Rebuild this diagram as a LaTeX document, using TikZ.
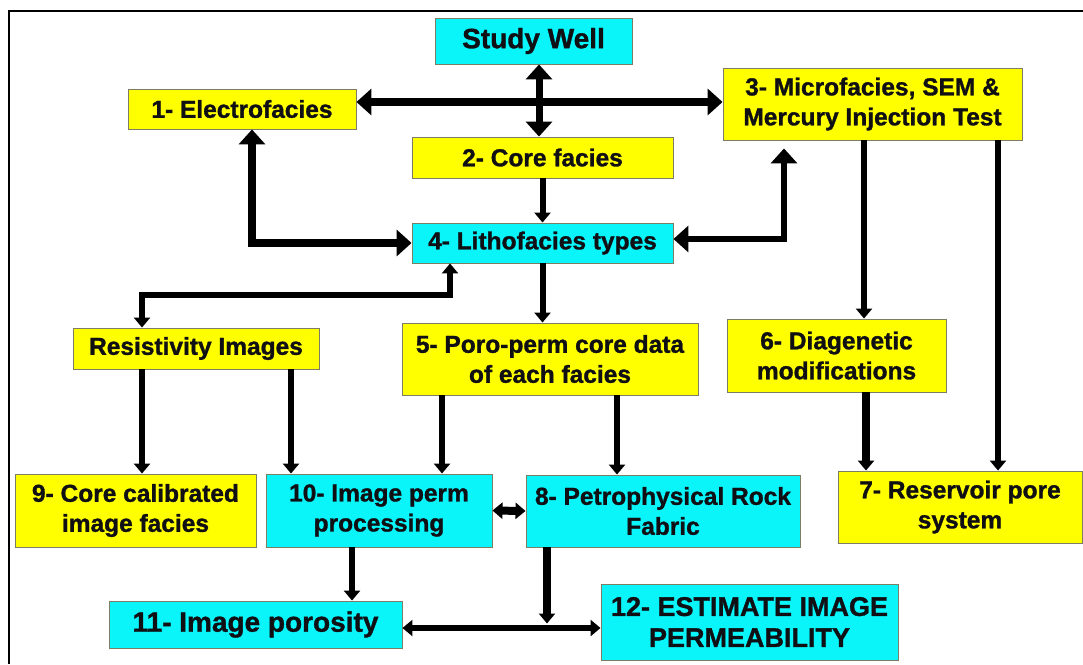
\documentclass[tikz,border=0pt]{standalone}
\usepackage{fontspec}
\setmainfont[BoldFeatures={FakeBold=1.2}]{Liberation Sans}
\usetikzlibrary{arrows.meta}
\definecolor{boxcyan}{RGB}{10,245,250}
\definecolor{boxyellow}{RGB}{255,255,0}
\definecolor{boxedge}{RGB}{125,125,100}
\definecolor{ink}{RGB}{15,15,20}
\tikzset{
  box/.style={draw=boxedge, line width=0.9pt, inner sep=0pt, align=center,
    font=\bfseries\fontsize{24.5}{30}\selectfont, text=ink},
  ybox/.style={box, fill=boxyellow},
  cbox/.style={box, fill=boxcyan},
  bigfont/.style={font=\bfseries\fontsize{28}{32}\selectfont},
  conn/.style={draw=black, line width=6pt},
  heavy/.style={draw=black, line width=8pt},
  dblbig/.style={arrows={Triangle[width=26pt,length=15pt]-Triangle[width=26pt,length=15pt]}},
  dblsmall/.style={arrows={Triangle[width=16pt,length=10pt]-Triangle[width=16pt,length=10pt]}},
  onesmall/.style={arrows={-Triangle[width=16pt,length=10pt]}},
}
\begin{document}
\begin{tikzpicture}[x=1pt,y=-1pt]
\useasboundingbox (0,0) rectangle (1083,664);
\fill[white] (0,0) rectangle (1083,664);
% frame
\draw[line width=2pt] (1083,11) -- (9,11) -- (9,664);

% nodes
\node[cbox, bigfont, minimum width=197pt, minimum height=46pt] (sw) at (533.5,41) {Study Well};
\node[ybox, minimum width=228pt, minimum height=40pt] (e1) at (242,109) {1- Electrofacies};
\node[ybox, minimum width=299pt, minimum height=72pt] (m3) at (872.5,104) {3- Microfacies, SEM \&\\Mercury Injection Test};
\node[ybox, minimum width=261pt, minimum height=41pt] (c2) at (542.5,157.5) {2- Core facies};
\node[cbox, minimum width=261pt, minimum height=40pt] (l4) at (542.5,243) {4- Lithofacies types};
\node[ybox, minimum width=246pt, minimum height=41pt] (ri) at (196,348.5) {Resistivity Images};
\node[ybox, minimum width=296pt, minimum height=72pt] (p5) at (550,359) {5- Poro-perm core data\\of each facies};
\node[ybox, minimum width=219pt, minimum height=73pt] (d6) at (836.5,355.5) {6- Diagenetic\\modifications};
\node[ybox, minimum width=241pt, minimum height=73pt] (c9) at (135.5,510.5) {9- Core calibrated\\image facies};
\node[cbox, minimum width=226pt, minimum height=73pt] (i10) at (379,510.5) {10- Image perm\\processing};
\node[cbox, minimum width=274pt, minimum height=72pt] (f8) at (663,511) {8- Petrophysical Rock\\Fabric};
\node[ybox, minimum width=244pt, minimum height=72pt] (r7) at (960,507) {7- Reservoir pore\\system};
\node[cbox, bigfont, minimum width=293pt, minimum height=47pt] (p11) at (255.5,624.5) {11- Image porosity};
\node[cbox, font=\bfseries\fontsize{27}{31}\selectfont, minimum width=297pt, minimum height=76pt] (e12) at (749.5,622) {12- ESTIMATE IMAGE\\PERMEABILITY};

% connectors
\draw[heavy, dblbig] ([yshift=7]e1.east) -- ([yshift=2]m3.west);
\draw[conn, line width=7pt, dblbig] ([xshift=5.5]sw.south) -- ([xshift=-3.5]c2.north);
\draw[conn, onesmall] (c2.south) -- (l4.north);
\draw[heavy, dblbig] ([xshift=10]e1.south) |- (l4.west);
\draw[conn, dblbig] ([yshift=4]l4.east) -| ([xshift=-88.5,yshift=-8]m3.south);
\draw[conn, dblsmall] ([xshift=-92.5]l4.south) -- ++(0,32) -| ([xshift=-54]ri.north);
\draw[conn, onesmall] (l4.south) -- (l4.south |- p5.north);
\draw[conn, onesmall] ([xshift=-8.5]m3.south) -- ([xshift=-8.5]m3.south |- d6.north);
\draw[conn, onesmall] ([xshift=125.5]m3.south) -- ([xshift=125.5]m3.south |- r7.north);
\draw[heavy, onesmall] ([xshift=29.5]d6.south) -- ([xshift=29.5]d6.south |- r7.north);
\draw[conn, onesmall] ([xshift=-54]ri.south) -- ([xshift=-54]ri.south |- c9.north);
\draw[conn, onesmall] ([xshift=95]ri.south) -- ([xshift=95]ri.south |- i10.north);
\draw[conn, onesmall] ([xshift=-108]p5.south) -- ([xshift=-108]p5.south |- i10.north);
\draw[conn, onesmall] ([xshift=67]p5.south) -- ([xshift=67]p5.south |- f8.north);
\draw[heavy, dblsmall] (i10.east) -- (f8.west);
\draw[conn, onesmall] ([xshift=-27]i10.south) -- ([xshift=-27]i10.south |- p11.north);
\draw[conn, dblsmall] ([yshift=-3.5]p11.east) -- ([yshift=-6]e12.west);
\draw[heavy, onesmall, shorten >=1pt] ([xshift=-116]f8.south) -- ([xshift=-116]f8.south |- p11.east);
\end{tikzpicture}
\end{document}
